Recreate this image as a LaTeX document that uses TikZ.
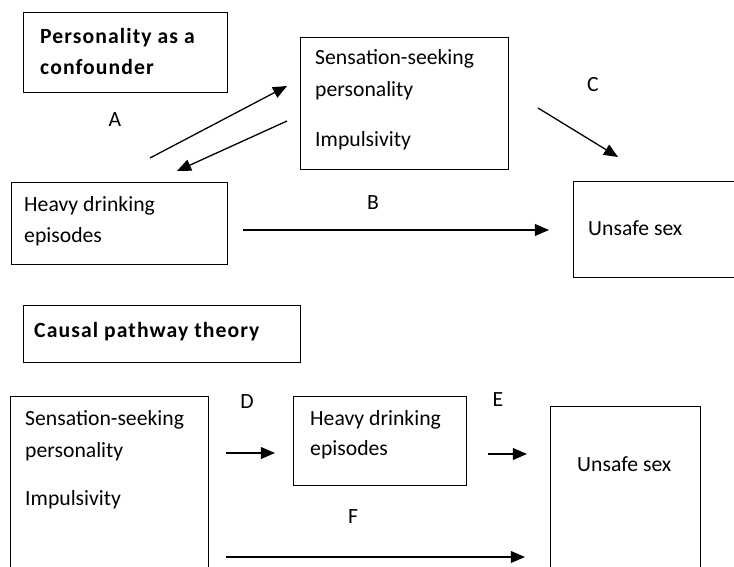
\documentclass[tikz,border=0pt]{standalone}
\usepackage{fontspec}
\setmainfont{Carlito}
\usetikzlibrary{arrows.meta}

\begin{document}
\begin{tikzpicture}[x=0.03cm,y=-0.03cm]
	\tikzstyle{Box}   = [draw, rectangle, anchor=north west, inner sep=0pt, line width=0.9pt]
	\tikzstyle{Txt}   = [anchor=base west, inner sep=0pt, font=\fontsize{18.5}{22}\selectfont]
	\tikzstyle{Title} = [Txt, font=\fontsize{18.5}{22}\selectfont\bfseries\addfontfeature{LetterSpace=5}]
	\tikzstyle{Lbl}   = [anchor=base, inner sep=0pt, font=\fontsize{18.5}{22}\selectfont]
	\tikzstyle{Link}  = [-{Triangle[length=12pt,width=10pt]}, line width=1.1pt]

	\useasboundingbox (0,0) rectangle (734,567);
	\clip (0,0) rectangle (734,567);

	% personality as a confounder
	\node (conf)  at (23,12)  [Box, minimum width=6.12cm, minimum height=2.4cm] {};
	\node (sens1) at (300,37) [Box, minimum width=6.24cm, minimum height=3.96cm] {};
	\node (heavy1) at (11,182) [Box, minimum width=6.48cm, minimum height=2.46cm] {};
	\node (sex1)  at (573,181) [Box, minimum width=5.61cm, minimum height=2.88cm] {};

	\node (conf-t1) at (40,44) [Title] {Personality as a};
	\node (conf-t2) at (40,75) [Title] {confounder};
	\node (sens1-t1) at (315,65)  [Txt] {Sensation-seeking};
	\node (sens1-t2) at (315,97)  [Txt] {personality};
	\node (sens1-t3) at (315,147) [Txt] {Impulsivity};
	\node (heavy1-t1) at (24,212) [Txt] {Heavy drinking};
	\node (heavy1-t2) at (24,242) [Txt] {episodes};
	\node (sex1-t) at (588,235) [Txt] {Unsafe sex};

	\coordinate (a1) at (150,158);
	\coordinate (a2) at (287,86);
	\coordinate (a3) at (287,121);
	\coordinate (a4) at (177,171);
	\coordinate (c1) at (538,108);
	\coordinate (c2) at (618,157);
	\coordinate (b1) at (243,230);
	\coordinate (b2) at (549,230);

	\draw (a1) to (a2) [Link];
	\draw (a3) to (a4) [Link];
	\draw (c1) to (c2) [Link];
	\draw (b1) to (b2) [Link];

	\node (labA) at (115,127) [Lbl] {A};
	\node (labB) at (373,210) [Lbl] {B};
	\node (labC) at (593,92)  [Lbl] {C};

	% causal pathway theory
	\node (path)  at (23,305)  [Box, minimum width=8.31cm, minimum height=1.71cm] {};
	\node (sens2) at (10,396)  [Box, minimum width=5.94cm, minimum height=6.72cm] {};
	\node (heavy2) at (293,396) [Box, minimum width=5.19cm, minimum height=2.67cm] {};
	\node (sex2)  at (550,406) [Box, minimum width=4.5cm, minimum height=6.42cm] {};

	\node (path-t) at (34,337) [Title] {Causal pathway theory};
	\node (sens2-t1) at (25,425) [Txt] {Sensation-seeking};
	\node (sens2-t2) at (25,457) [Txt] {personality};
	\node (sens2-t3) at (25,505) [Txt] {Impulsivity};
	\node (heavy2-t1) at (310,425) [Txt] {Heavy drinking};
	\node (heavy2-t2) at (310,455) [Txt] {episodes};
	\node (sex2-t) at (577,471) [Txt] {Unsafe sex};

	\coordinate (d1) at (226,453);
	\coordinate (d2) at (275,453);
	\coordinate (e1) at (488,454);
	\coordinate (e2) at (527,454);
	\coordinate (f1) at (226,557);
	\coordinate (f2) at (525,557);

	\draw (d1) to (d2) [Link];
	\draw (e1) to (e2) [Link];
	\draw (f1) to (f2) [Link];

	\node (labD) at (247,408) [Lbl] {D};
	\node (labE) at (498,406) [Lbl] {E};
	\node (labF) at (353,523) [Lbl] {F};
\end{tikzpicture}
\end{document}
